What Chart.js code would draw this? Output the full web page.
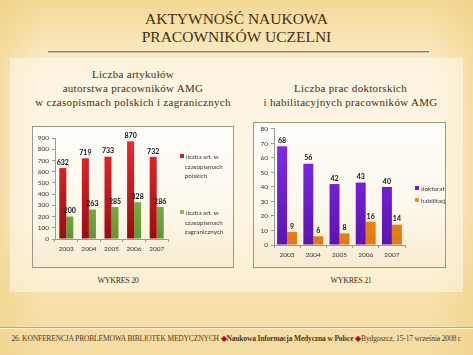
<!DOCTYPE html>
<html><head><meta charset="utf-8">
<script src="https://cdn.jsdelivr.net/npm/chart.js@4"></script>
<style>
html,body{margin:0;padding:0;}
body{width:473px;height:355px;overflow:hidden;position:relative;
 background:linear-gradient(to bottom,#f3d994 0%,#f8e6b8 12%,#fbefd3 22%,#fbf0d6 60%,#f6e2ad 82%,#f4dca2 100%);
 font-family:"Liberation Serif",serif;color:#4a2c12;}
.vign{position:absolute;left:0;top:0;width:473px;height:355px;
 background:linear-gradient(to right,rgba(240,208,130,0.55) 0%,rgba(240,208,130,0) 9%,rgba(240,208,130,0) 91%,rgba(240,208,130,0.55) 100%);}
.band{position:absolute;left:10px;top:58px;width:453px;height:234px;
 background:rgba(255,250,236,0.55);}
.t{position:absolute;white-space:nowrap;text-align:center;}
.box{position:absolute;border:1px solid #9c968a;
 background:linear-gradient(to bottom,#fffefa 0%,#fdf8ec 60%,#f8ecd0 100%);box-sizing:border-box;}
canvas{position:absolute;}
.leg{position:absolute;font-family:Lato,sans-serif;font-size:6.3px;color:#3a3a3a;line-height:9.5px;white-space:nowrap;}
.leg i{display:inline-block;width:4px;height:4px;margin-right:2px;vertical-align:1px;}
</style></head>
<body>
<div class="vign"></div>
<div class="band"></div>
<div class="t" style="left:0;width:473px;top:10px;font-size:15.5px;line-height:18px;">AKTYWNOŚĆ NAUKOWA<br>PRACOWNIKÓW UCZELNI</div>
<div style="position:absolute;left:48px;top:51px;width:381px;height:1px;background:#8a7e70;border-bottom:1px solid #c9bda8;"></div>
<div class="t" style="left:28px;width:210px;top:67px;font-size:11px;line-height:14px;letter-spacing:0.3px;">Liczba artykułów<br>autorstwa pracowników AMG<br>w czasopismach polskich i zagranicznych</div>
<div class="t" style="left:248px;width:205px;top:81px;font-size:11px;line-height:14px;letter-spacing:0.3px;">Liczba prac doktorskich<br>i habilitacyjnych pracowników AMG</div>

<div class="box" style="left:32px;top:126px;width:202px;height:142px;"></div>
<div class="box" style="left:253px;top:122px;width:193px;height:146px;"></div>
<canvas id="c1" width="201" height="141" style="left:32px;top:126px;width:201px;height:141px;"></canvas>
<canvas id="c2" width="191" height="145" style="left:254px;top:122px;width:191px;height:145px;"></canvas>

<div class="leg" style="left:180px;top:152px;"><i style="background:#c41f35"></i>liczba art. w<br>&nbsp;&nbsp;&nbsp;czasopismach<br>&nbsp;&nbsp;&nbsp;polskich</div>
<div class="leg" style="left:180px;top:208px;"><i style="background:#8cbc4c"></i>liczba art. w<br>&nbsp;&nbsp;&nbsp;czasopismach<br>&nbsp;&nbsp;&nbsp;zagranicznych</div>
<div style="position:absolute;left:415px;top:182px;width:30px;height:30px;overflow:hidden;">
<div class="leg" style="left:0;top:1px;line-height:12px;"><i style="background:#6a1fc4"></i>doktoraty<br><i style="background:#e8922c"></i>habilitacje</div></div>

<div class="t" style="left:68px;width:100px;top:276px;font-size:8px;letter-spacing:-0.3px;">WYKRES 20</div>
<div class="t" style="left:301px;width:100px;top:276px;font-size:8px;letter-spacing:-0.3px;">WYKRES 21</div>

<div style="position:absolute;left:0;top:327px;width:473px;height:1px;background:#bfa87a;border-bottom:1px solid #fff3d8;"></div>
<div class="t" style="left:0;width:473px;top:334px;font-size:7.5px;color:#5a3518;letter-spacing:-0.15px;">26. KONFERENCJA PROBLEMOWA BIBLIOTEK MEDYCZNYCH <span style="color:#b01010">◆</span><b>Naukowa Informacja Medyczna w Polsce</b> <span style="color:#b01010">◆</span>Bydgoszcz, 15-17 września 2008 r.</div>

<script>
const years = ['2003','2004','2005','2006','2007'];
const artPolskie = [632, 719, 733, 870, 732];
const artZagraniczne = [200, 263, 285, 328, 286];
const doktoraty = [68, 56, 42, 43, 40];
const habilitacje = [9, 6, 8, 16, 14];

function vgrad(top, bottom){
  return function(ctx){
    const ch = ctx.chart; const a = ch.chartArea;
    if(!a) return top;
    const g = ch.ctx.createLinearGradient(0, a.top, 0, a.bottom);
    g.addColorStop(0, top); g.addColorStop(1, bottom);
    return g;
  };
}
const valueLabels = {
  id:'valueLabels',
  afterDatasetsDraw(chart){
    const c = chart.ctx;
    c.save();
    c.font = 'bold 7px Lato, sans-serif';
    c.fillStyle = '#111';
    c.textAlign = 'center'; c.textBaseline = 'bottom';
    chart.data.datasets.forEach((ds,i)=>{
      chart.getDatasetMeta(i).data.forEach((el,j)=>{
        c.fillText(String(ds.data[j]), el.x, el.y - 2);
      });
    });
    c.restore();
  }
};
function makeOpts(max, step, yW, xH, padR, padT, catPct){
  const tickFont = {family:'Lato, sans-serif', size:6.5};
  return {
    responsive:false, animation:false,
    layout:{padding:{left:0,right:padR,top:padT,bottom:0}},
    plugins:{legend:{display:false}, tooltip:{enabled:false}},
    datasets:{bar:{categoryPercentage:catPct, barPercentage:1.0}},
    scales:{
      x:{grid:{display:true,drawOnChartArea:false,offset:true,color:'#9a9a9a',tickLength:3},
         border:{color:'#9a9a9a'},
         ticks:{font:tickFont,color:'#333',padding:3,maxRotation:0},
         afterFit(s){s.height = xH;}},
      y:{min:0,max:max,grid:{display:true,drawOnChartArea:false,color:'#9a9a9a',tickLength:3},
         border:{color:'#9a9a9a'},
         ticks:{stepSize:step,font:tickFont,color:'#333',padding:3},
         afterFit(s){s.width = yW;}}
    }
  };
}
new Chart(document.getElementById('c1'), {
  type:'bar',
  data:{labels:years, datasets:[
    {label:'liczba art. w czasopismach polskich', data:artPolskie, backgroundColor:vgrad('#ee2a2c','#9a0c12')},
    {label:'liczba art. w czasopismach zagranicznych', data:artZagraniczne, backgroundColor:vgrad('#a6d466','#5e9630')}
  ]},
  options:makeOpts(900,100,23,28,65,12,0.62),
  plugins:[valueLabels]
});
new Chart(document.getElementById('c2'), {
  type:'bar',
  data:{labels:years, datasets:[
    {label:'doktoraty', data:doktoraty, backgroundColor:vgrad('#8a2ef0','#5a14b0')},
    {label:'habilitacje', data:habilitacje, backgroundColor:vgrad('#f8a82a','#e07a12')}
  ]},
  options:makeOpts(80,10,20,22,40,4,0.76),
  plugins:[valueLabels]
});
</script>
</body></html>
